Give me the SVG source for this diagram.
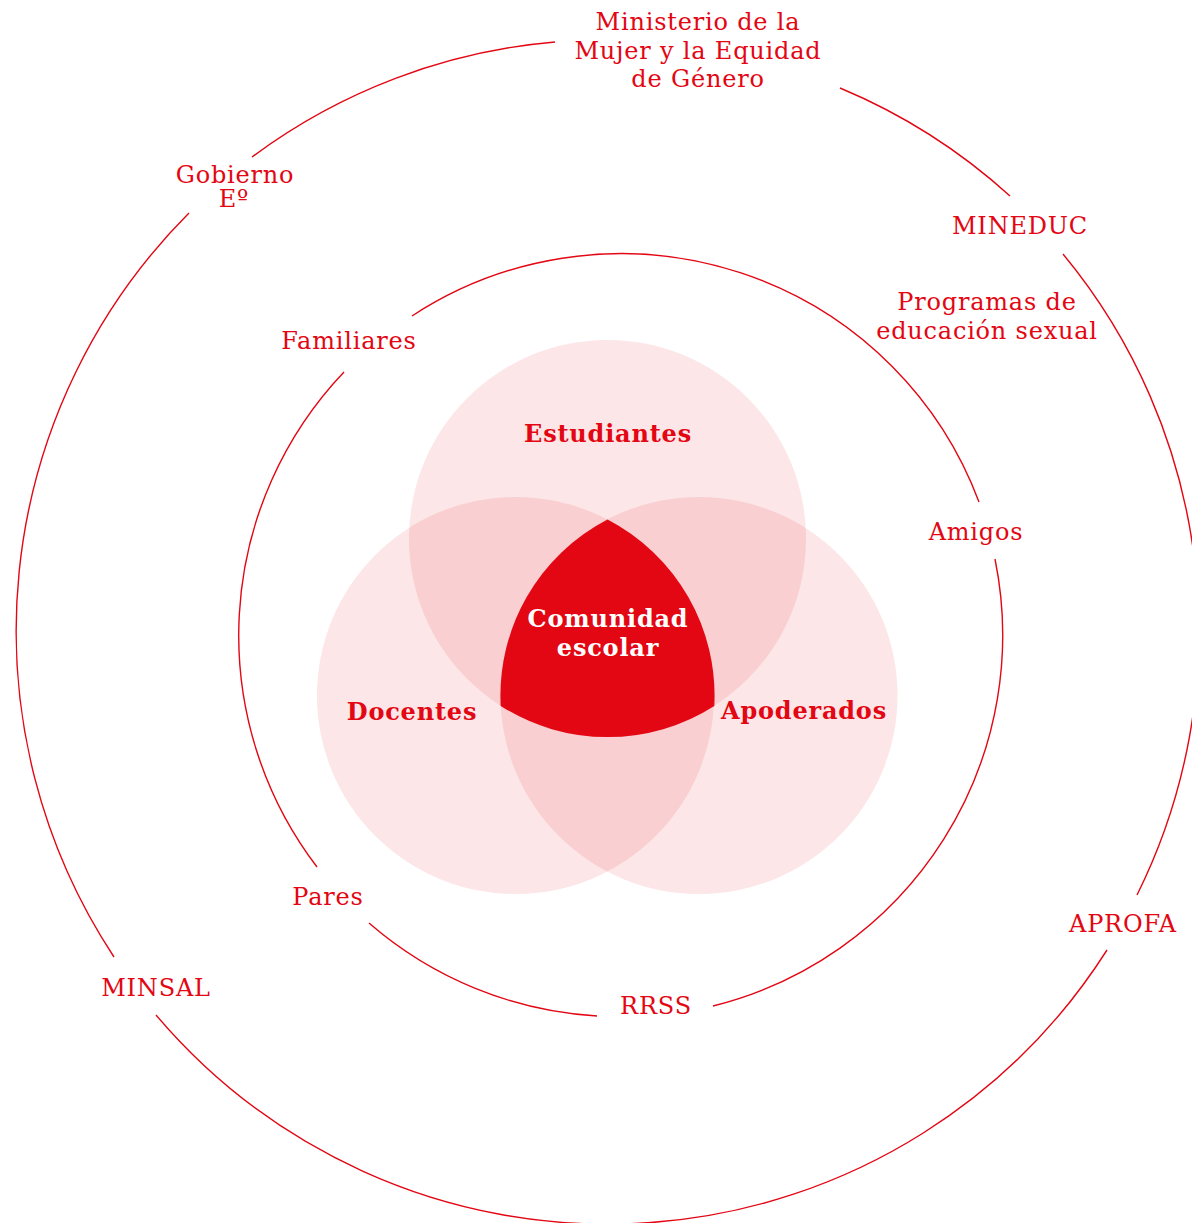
<svg xmlns="http://www.w3.org/2000/svg" width="1192" height="1223" viewBox="0 0 1192 1223">
<style>
.ring{fill:none;stroke:#e30613;stroke-width:1.4}
.lbl{font-family:"DejaVu Serif","Liberation Serif",serif;font-size:24px;letter-spacing:0.8px;fill:#e30613;text-anchor:middle}
.bold{font-family:"DejaVu Serif","Liberation Serif",serif;font-size:24px;letter-spacing:0.8px;font-weight:bold;fill:#e30613;text-anchor:middle}
.white{fill:#ffffff}
.venn{fill:#e30613;fill-opacity:0.1}
</style>
<rect width="1192" height="1223" fill="#ffffff"/>
<g id="connectors">
<path class="ring" d="M840,88 A592,592 0 0 1 1010,196"/>
<path class="ring" d="M1063,254 A592,592 0 0 1 1137,895"/>
<path class="ring" d="M1107,950 A592,592 0 0 1 156,1015"/>
<path class="ring" d="M114,957 A592,592 0 0 1 189,213"/>
<path class="ring" d="M252,157 A592,592 0 0 1 555,42"/>
<path class="ring" d="M412,316 A382,382 0 0 1 979,502"/>
<path class="ring" d="M995,559 A382,382 0 0 1 713,1006"/>
<path class="ring" d="M597,1016 A382,382 0 0 1 369,923"/>
<path class="ring" d="M317,867 A382,382 0 0 1 344,372"/>
</g>
<g id="estudiantes"><circle class="venn" cx="607.5" cy="538.5" r="198.5"/><text class="bold" x="608" y="442">Estudiantes</text></g>
<g id="docentes"><circle class="venn" cx="515.5" cy="695.5" r="198.5"/><text class="bold" x="412" y="720">Docentes</text></g>
<g id="apoderados"><circle class="venn" cx="699" cy="695.5" r="198.5"/><text class="bold" x="804" y="719">Apoderados</text></g>
<g id="comunidad">
<path fill="#e30613" d="M607.5,519.5 A198.5,198.5 0 0 1 714.3,705.9 A198.5,198.5 0 0 1 500.7,705.9 A198.5,198.5 0 0 1 607.5,519.5 Z"/>
<text class="bold white" x="608" y="627">Comunidad</text>
<text class="bold white" x="608" y="656">escolar</text>
</g>
<g id="ministerio"><text class="lbl" x="698" y="30">Ministerio de la</text><text class="lbl" x="698" y="58.5">Mujer y la Equidad</text><text class="lbl" x="698" y="87">de Género</text></g>
<g id="gobierno"><text class="lbl" x="235" y="183">Gobierno</text><text class="lbl" x="234" y="207">Eº</text></g>
<g id="mineduc"><text class="lbl" x="1020" y="234">MINEDUC</text></g>
<g id="programas"><text class="lbl" x="987" y="310">Programas de</text><text class="lbl" x="987" y="339">educación sexual</text></g>
<g id="familiares"><text class="lbl" x="349" y="349">Familiares</text></g>
<g id="amigos"><text class="lbl" x="976" y="540">Amigos</text></g>
<g id="pares"><text class="lbl" x="328" y="905">Pares</text></g>
<g id="minsal"><text class="lbl" x="156" y="996">MINSAL</text></g>
<g id="rrss"><text class="lbl" x="656" y="1014">RRSS</text></g>
<g id="aprofa"><text class="lbl" x="1123" y="932">APROFA</text></g>
</svg>
